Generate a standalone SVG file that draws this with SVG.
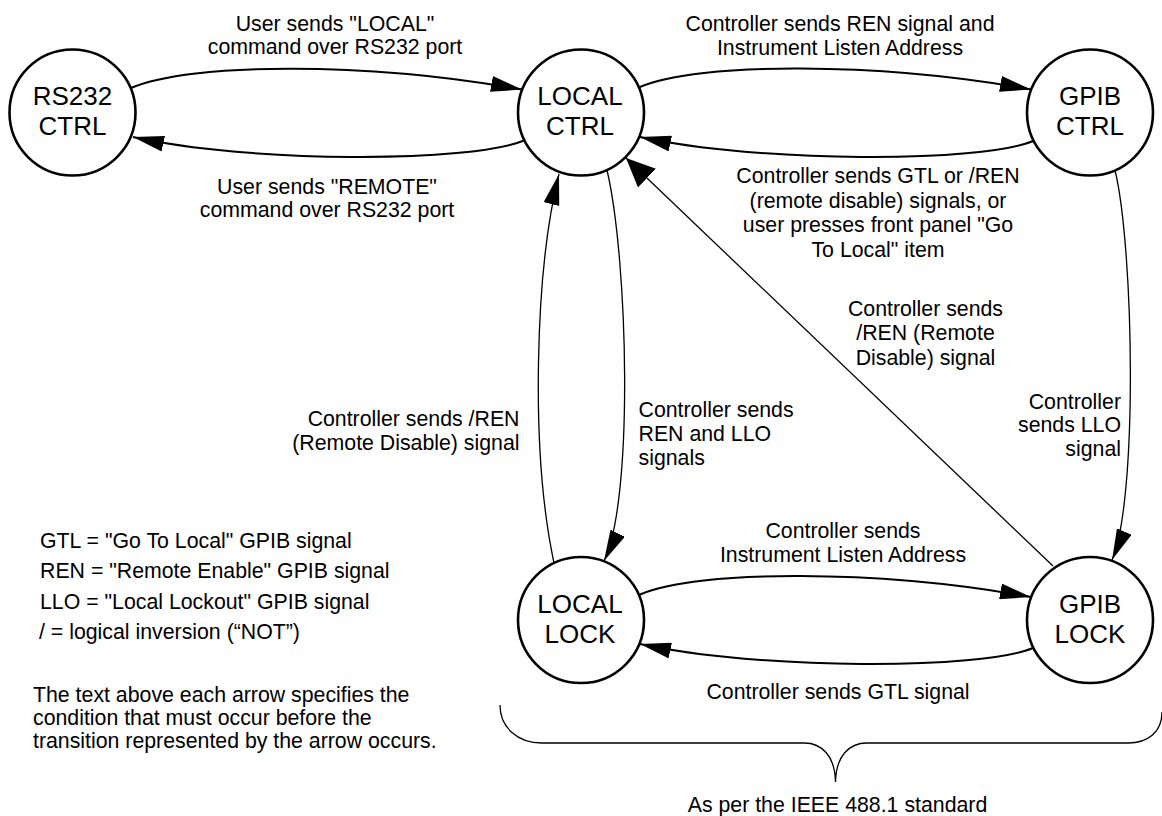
<svg xmlns="http://www.w3.org/2000/svg" width="1162" height="816" viewBox="0 0 1162 816">
<style>
text{font-family:"Liberation Sans",Arial,sans-serif;fill:#000}
.node{fill:#fff;stroke:#000;stroke-width:2.6}
.nl{font-size:26px;text-anchor:middle}
.lb{font-size:21.3px}
.c{text-anchor:middle}
.r{text-anchor:end}
.arc{fill:none;stroke:#000;stroke-width:2}
.thin{fill:none;stroke:#000;stroke-width:1.3}
</style>
<defs>
<marker id="ah" markerUnits="userSpaceOnUse" viewBox="0 0 31 16" markerWidth="31" markerHeight="16" refX="31" refY="8" orient="auto">
<path d="M0,0 L31,8 L0,16 z" fill="#000"/>
</marker>
<marker id="ahb" markerUnits="userSpaceOnUse" viewBox="0 0 29 26" markerWidth="29" markerHeight="26" refX="29" refY="13" orient="auto">
<path d="M0,0 L29,13 L0,26 z" fill="#000"/>
</marker>
</defs>
<rect width="1162" height="816" fill="#fff"/>

<g id="connectors">
<path class="arc" d="M131,88 C190,62 370,62 522,89.5" marker-end="url(#ah)"/>
<path class="arc" d="M524,140.5 C470,163 250,163 133,137" marker-end="url(#ah)"/>
<path class="arc" d="M640,87 C697,62 880,62 1031,89.5" marker-end="url(#ah)"/>
<path class="arc" d="M1033,141 C980,163 760,163 640,137" marker-end="url(#ah)"/>
<path class="arc" d="M640,594.5 C697,569.5 880,569.5 1031,597" marker-end="url(#ah)"/>
<path class="arc" d="M1033,648 C980,670 760,670 640,644" marker-end="url(#ah)"/>
<path class="thin" d="M554,563 C530,450 535,270 559,174" marker-end="url(#ah)"/>
<path class="thin" d="M607,170 C628,260 634,500 604,561" marker-end="url(#ah)"/>
<path class="thin" d="M1115,170 C1134,250 1138,500 1112,560" marker-end="url(#ah)"/>
<path class="thin" d="M1053,566 L626,158" marker-end="url(#ahb)"/>
</g>

<g id="rs232-ctrl">
<circle class="node" cx="72.5" cy="112.5" r="63"/>
<text class="nl" x="72.5" y="105">RS232</text>
<text class="nl" x="72.5" y="135">CTRL</text>
</g>
<g id="local-ctrl">
<circle class="node" cx="581" cy="112.5" r="63"/>
<text class="nl" x="580" y="105">LOCAL</text>
<text class="nl" x="580" y="135">CTRL</text>
</g>
<g id="gpib-ctrl">
<circle class="node" cx="1090" cy="112.5" r="63"/>
<text class="nl" x="1090" y="105">GPIB</text>
<text class="nl" x="1090" y="135">CTRL</text>
</g>
<g id="local-lock">
<circle class="node" cx="581" cy="620" r="63"/>
<text class="nl" x="580" y="613">LOCAL</text>
<text class="nl" x="580" y="643">LOCK</text>
</g>
<g id="gpib-lock">
<circle class="node" cx="1090" cy="620" r="63"/>
<text class="nl" x="1090" y="613">GPIB</text>
<text class="nl" x="1090" y="643">LOCK</text>
</g>

<g id="edge-labels">
<text class="lb c" x="335" y="30.5">User sends "LOCAL"</text>
<text class="lb c" x="335" y="54">command over RS232 port</text>
<text class="lb c" x="327" y="194">User sends "REMOTE"</text>
<text class="lb c" x="327" y="217">command over RS232 port</text>
<text class="lb c" x="840" y="30.5">Controller sends REN signal and</text>
<text class="lb c" x="840" y="54.5">Instrument Listen Address</text>
<text class="lb c" x="878" y="183">Controller sends GTL or /REN</text>
<text class="lb c" x="878" y="207.5">(remote disable) signals, or</text>
<text class="lb c" x="878" y="232">user presses front panel "Go</text>
<text class="lb c" x="878" y="256.5">To Local" item</text>
<text class="lb c" x="925.5" y="316">Controller sends</text>
<text class="lb c" x="925.5" y="340">/REN (Remote</text>
<text class="lb c" x="925.5" y="364.5">Disable) signal</text>
<text class="lb r" x="1121" y="408.5">Controller</text>
<text class="lb r" x="1121" y="432">sends LLO</text>
<text class="lb r" x="1121" y="455.5">signal</text>
<text class="lb r" x="519.5" y="426">Controller sends /REN</text>
<text class="lb r" x="519.5" y="450">(Remote Disable) signal</text>
<text class="lb" x="638.5" y="416.5">Controller sends</text>
<text class="lb" x="638.5" y="440.5">REN and LLO</text>
<text class="lb" x="638.5" y="464.5">signals</text>
<text class="lb c" x="843" y="538">Controller sends</text>
<text class="lb c" x="843" y="561.5">Instrument Listen Address</text>
<text class="lb c" x="838" y="699">Controller sends GTL signal</text>
</g>

<g id="legend">
<text class="lb" x="40" y="547.5">GTL = "Go To Local" GPIB signal</text>
<text class="lb" x="40" y="578">REN = "Remote Enable" GPIB signal</text>
<text class="lb" x="40" y="608.5">LLO = "Local Lockout" GPIB signal</text>
<text class="lb" x="39" y="639">/ = logical inversion (“NOT”)</text>
<text class="lb" x="33" y="702">The text above each arrow specifies the</text>
<text class="lb" x="33" y="725">condition that must occur before the</text>
<text class="lb" x="33" y="748">transition represented by the arrow occurs.</text>
</g>

<g id="brace">
<path class="thin" d="M500,705 C500,727 517,743 542,743 L804,743 C822,743 835,756 835.5,782 C836,756 849,743 867,743 L1128,743 C1148,743 1162,732 1162,712" stroke-width="1.5"/>
<text class="lb c" x="837.5" y="812">As per the IEEE 488.1 standard</text>
</g>
</svg>
